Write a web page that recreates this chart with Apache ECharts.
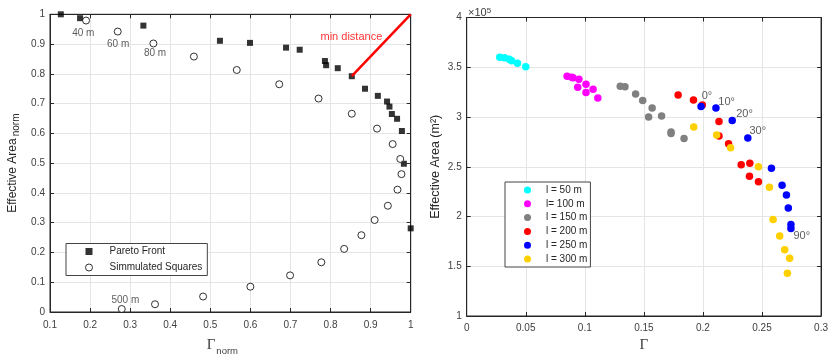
<!DOCTYPE html>
<html>
<head>
<meta charset="utf-8">
<title>Pareto front</title>
<script src="https://cdn.jsdelivr.net/npm/echarts@6/dist/echarts.min.js"></script>
<style>
  html, body { margin: 0; padding: 0; background: #fff; }
  #main { width: 831px; height: 361px; }
</style>
</head>
<body>
<div id="main"></div>
<script type="text/javascript">
    // left panel: normalised values
    var paretoX = [0.127, 0.175, 0.333, 0.524, 0.599, 0.689, 0.723, 0.786, 0.789, 0.818, 0.853, 0.886, 0.918, 0.941, 0.947, 0.953, 0.966, 0.978, 0.983, 1.0];
    var paretoY = [1.0, 0.987, 0.962, 0.911, 0.904, 0.888, 0.881, 0.843, 0.829, 0.819, 0.792, 0.750, 0.726, 0.707, 0.690, 0.665, 0.649, 0.608, 0.498, 0.281];
    var simX = [0.190, 0.269, 0.358, 0.459, 0.566, 0.672, 0.770, 0.853, 0.916, 0.955, 0.974, 0.977, 0.967, 0.943, 0.910, 0.877, 0.834, 0.777, 0.699, 0.600, 0.482, 0.362, 0.279];
    var simY = [0.979, 0.942, 0.902, 0.858, 0.813, 0.765, 0.717, 0.666, 0.616, 0.564, 0.514, 0.463, 0.411, 0.357, 0.309, 0.258, 0.212, 0.167, 0.123, 0.085, 0.052, 0.026, 0.010];
    var sizeLabels = [[0.183, 0.937, '40 m'], [0.270, 0.901, '60 m'], [0.362, 0.868, '80 m'], [0.288, 0.038, '500 m']];
    var minDistX = [0.853, 1.0];
    var minDistY = [0.792, 1.0];
    var minDistLabel = [0.852, 0.924, 'min distance'];

    // right panel: effective area in 1e5 m2
    var groupNames = ['l = 50 m', 'l= 100 m', 'l = 150 m', 'l = 200 m', 'l = 250 m', 'l = 300 m'];
    var groupColors = ['#00FFFF', '#FF00FF', '#808080', '#FF0000', '#0000FF', '#FFD000'];
    var l50X = [0.028, 0.032, 0.036, 0.038, 0.043, 0.050];
    var l50Y = [3.60, 3.595, 3.58, 3.565, 3.54, 3.505];
    var l100X = [0.085, 0.089, 0.090, 0.095, 0.094, 0.101, 0.101, 0.107, 0.111];
    var l100Y = [3.41, 3.40, 3.395, 3.38, 3.30, 3.33, 3.245, 3.28, 3.19];
    var l150X = [0.130, 0.134, 0.143, 0.149, 0.157, 0.154, 0.165, 0.173, 0.173, 0.184];
    var l150Y = [3.31, 3.305, 3.23, 3.165, 3.09, 3.00, 3.01, 2.85, 2.835, 2.785];
    var l200X = [0.179, 0.192, 0.1995, 0.2136, 0.2136, 0.2217, 0.2324, 0.2397, 0.2394, 0.247];
    var l200Y = [3.22, 3.17, 3.12, 2.955, 2.81, 2.73, 2.52, 2.535, 2.405, 2.35];
    var l250X = [0.1984, 0.211, 0.2248, 0.238, 0.258, 0.267, 0.2707, 0.2723, 0.2745, 0.2745];
    var l250Y = [3.105, 3.09, 2.965, 2.79, 2.485, 2.315, 2.215, 2.085, 1.92, 1.88];
    var l300X = [0.1922, 0.2116, 0.2234, 0.247, 0.2563, 0.2594, 0.265, 0.2692, 0.2734, 0.2715];
    var l300Y = [2.90, 2.82, 2.69, 2.50, 2.295, 1.97, 1.805, 1.665, 1.58, 1.43];
    var groupX = [l50X, l100X, l150X, l200X, l250X, l300X];
    var groupY = [l50Y, l100Y, l150Y, l200Y, l250Y, l300Y];
    var angleLabels = [[0.199, 3.214, '0°'], [0.213, 3.154, '10°'], [0.2282, 3.027, '20°'], [0.2394, 2.859, '30°'], [0.2766, 1.804, '90°']];

    var FONT = 'Liberation Sans, Arial, sans-serif';
    var SERIF = 'Liberation Serif, Times New Roman, serif';
    var AXC = '#262626';
    var TXT = '#404040';

    function zip(xs, ys) {
        var out = [];
        for (var i = 0; i < xs.length; i++) out.push([xs[i], ys[i]]);
        return out;
    }
    function fmt(v) { return String(parseFloat(v.toFixed(3))); }

    function mainAxis(pos, gi, min, max, step, margin, extra) {
        var a = {
            type: 'value', gridIndex: gi, position: pos, min: min, max: max, interval: step,
            axisLine: { show: true, onZero: false, lineStyle: { color: AXC, width: 1 } },
            axisTick: { show: true, inside: true, length: 4, lineStyle: { color: AXC } },
            axisLabel: { color: TXT, fontFamily: FONT, fontSize: 10, margin: margin, formatter: fmt },
            splitLine: { show: true, lineStyle: { color: '#e5e5e5', width: 1 } }
        };
        for (var k in extra) a[k] = extra[k];
        return a;
    }
    function boxAxis(pos, gi, min, max, step) {
        return {
            type: 'value', gridIndex: gi, position: pos, min: min, max: max, interval: step,
            axisLine: { show: true, onZero: false, lineStyle: { color: AXC, width: 1 } },
            axisTick: { show: true, inside: true, length: 4, lineStyle: { color: AXC } },
            axisLabel: { show: false }, splitLine: { show: false }
        };
    }
    function textLayer(items, xi, yi, style) {
        return {
            type: 'scatter', xAxisIndex: xi, yAxisIndex: yi, symbolSize: 0, silent: true, z: 5,
            data: items.map(function (d) { return { value: [d[0], d[1]], name: d[2] }; }),
            label: Object.assign({ show: true, position: 'inside', formatter: '{b}', fontFamily: FONT }, style)
        };
    }

    var myChart = echarts.init(document.getElementById('main'), null, { renderer: 'canvas' });

    var series = [
        {
            name: 'Pareto Front', type: 'scatter', xAxisIndex: 0, yAxisIndex: 0,
            symbol: 'rect', symbolSize: 6, itemStyle: { color: '#000' },
            data: zip(paretoX, paretoY), z: 3
        },
        {
            name: 'Simmulated Squares', type: 'scatter', xAxisIndex: 0, yAxisIndex: 0,
            symbol: 'circle', symbolSize: 7,
            itemStyle: { color: '#fff', borderColor: '#000', borderWidth: 1 },
            data: zip(simX, simY), z: 3
        },
        {
            name: 'min distance line', type: 'line', xAxisIndex: 0, yAxisIndex: 0,
            data: zip(minDistX, minDistY), showSymbol: false, symbol: 'none',
            lineStyle: { color: '#ff0000', width: 2.5 }, z: 4, silent: true
        },
        textLayer(sizeLabels, 0, 0, { fontSize: 10, color: '#333' }),
        textLayer([minDistLabel], 0, 0, { fontSize: 11, color: '#ff0000' })
    ];
    for (var g = 0; g < groupNames.length; g++) {
        series.push({
            name: groupNames[g], type: 'scatter', xAxisIndex: 2, yAxisIndex: 2,
            symbol: 'circle', symbolSize: 7.5, itemStyle: { color: groupColors[g], opacity: 1 },
            data: zip(groupX[g], groupY[g]), z: 3
        });
    }
    series.push(textLayer(angleLabels, 2, 2, { fontSize: 11, color: '#333', align: 'left' }));

    var option = {
        animation: false,
        backgroundColor: '#fff',
        textStyle: { fontFamily: FONT },
        title: {
            text: '×10{s|5}', left: 463, top: 2,
            textStyle: { fontFamily: FONT, fontSize: 11, fontWeight: 'normal', color: TXT,
                rich: { s: { fontSize: 8, color: TXT, verticalAlign: 'top', lineHeight: 10 } } }
        },
        grid: [
            { left: 48.3, top: 14.3, width: 362.4, height: 303.4, show: true, borderColor: AXC, borderWidth: 1 },
            { left: 466.7, top: 17.5, width: 355.6, height: 298.5, show: true, borderColor: AXC, borderWidth: 1 }
        ],
        xAxis: [
            mainAxis('bottom', 0, 0.1, 1, 0.1, 8, {
                name: 'Γ{s|norm}', nameLocation: 'middle', nameGap: 22,
                nameTextStyle: { fontFamily: SERIF, fontSize: 15, color: TXT,
                    rich: { s: { fontFamily: FONT, fontSize: 9.5, color: TXT, padding: [12, 16, 0, 1] } } }
            }),
            boxAxis('top', 0, 0.1, 1, 0.1),
            mainAxis('bottom', 1, 0, 0.3, 0.05, 7, {
                name: 'Γ', nameLocation: 'middle', nameGap: 22,
                nameTextStyle: { fontFamily: SERIF, fontSize: 15, color: TXT }
            }),
            boxAxis('top', 1, 0, 0.3, 0.05)
        ],
        yAxis: [
            mainAxis('left', 0, 0, 1, 0.1, 5, {
                name: '{a|Effective Area}{s|norm}', nameLocation: 'middle', nameGap: 29, nameRotate: 90,
                nameTextStyle: { color: '#262626',
                    rich: {
                        a: { fontFamily: FONT, fontSize: 12, color: '#262626', lineHeight: 14, verticalAlign: 'top' },
                        s: { fontFamily: FONT, fontSize: 10, color: '#262626', lineHeight: 11, padding: [10, 0, 0, 2], verticalAlign: 'bottom' }
                    } }
            }),
            boxAxis('right', 0, 0, 1, 0.1),
            mainAxis('left', 1, 1, 4, 0.5, 5, {
                name: 'Effective Area (m²)', nameLocation: 'middle', nameGap: 25, nameRotate: 90,
                nameTextStyle: { fontFamily: FONT, fontSize: 12.5, color: '#262626' }
            }),
            boxAxis('right', 1, 1, 4, 0.5)
        ],
        legend: [
            {
                data: [
                    { name: 'Pareto Front', icon: 'rect', itemStyle: { color: '#000', borderWidth: 0 } },
                    { name: 'Simmulated Squares', icon: 'circle', itemStyle: { color: '#fff', borderColor: '#000', borderWidth: 1 } }
                ],
                orient: 'vertical',
                left: 66, top: 243.5, itemGap: 2, itemWidth: 7, itemHeight: 7,
                padding: [1, 5, 1, 19], borderColor: '#444', borderWidth: 1, backgroundColor: '#fff',
                textStyle: { fontFamily: FONT, fontSize: 10, color: '#262626', lineHeight: 14, padding: [0, 0, 0, 12] }
            },
            {
                data: groupNames, orient: 'vertical',
                left: 505, top: 182, itemGap: 1.8, itemWidth: 7, itemHeight: 7,
                padding: [2, 3, 2, 19], borderColor: '#444', borderWidth: 1, backgroundColor: '#fff',
                textStyle: { fontFamily: FONT, fontSize: 10, color: '#262626', lineHeight: 12, padding: [0, 0, 0, 10] }
            }
        ],
        series: series
    };

    myChart.setOption(option);
</script>
</body>
</html>
